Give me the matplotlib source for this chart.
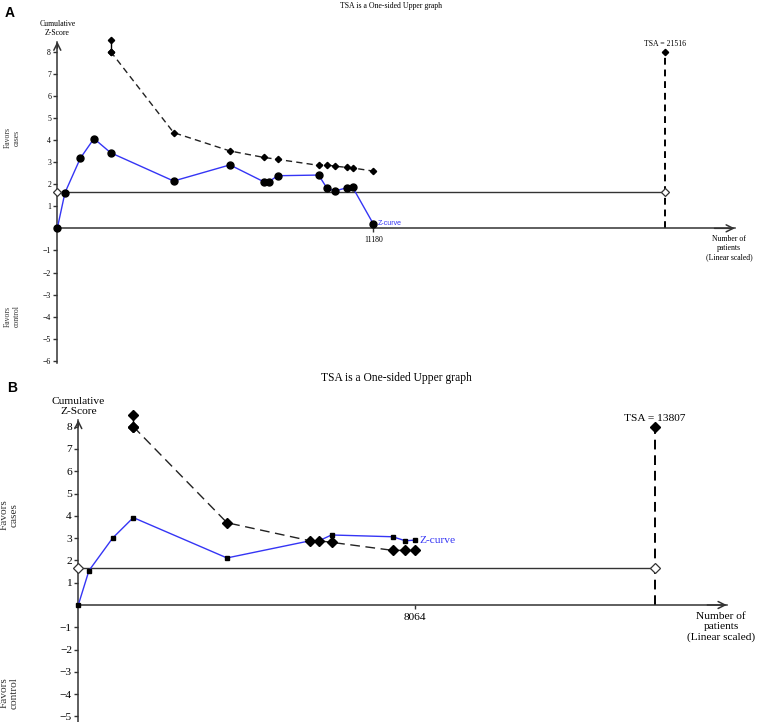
"""Trial sequential analysis charts (panels A and B)."""

import matplotlib

matplotlib.use("Agg")
import matplotlib.pyplot as plt

plt.rcParams["font.family"] = "serif"
plt.rcParams["font.serif"] = ["Liberation Serif", "DejaVu Serif"]

W, H = 758, 722

# Panel A data
a_patients = [0, 271, 814, 1297, 1887, 4116, 6108, 7300, 7488, 7795, 9245, 9528, 9811, 10236, 10448, 11180]
a_z = [0, 1.61, 3.17, 4.06, 3.42, 2.14, 2.87, 2.11, 2.11, 2.38, 2.41, 1.84, 1.69, 1.83, 1.86, 0.20]
a_bound_patients = [1887, 4116, 6108, 7300, 7795, 9245, 9528, 9811, 10236, 10448, 11180]
a_bound_z = [8.0, 4.33, 3.50, 3.21, 3.12, 2.85, 2.88, 2.81, 2.76, 2.73, 2.59]
a_bound_top = 8.5
a_tsa = 21516
a_yticks = [-6, -5, -4, -3, -2, -1, 1, 2, 3, 4, 5, 6, 7, 8]

# Panel B data
b_patients = [0, 255, 822, 1317, 3561, 5550, 5765, 6065, 7530, 7832, 8064]
b_z = [0, 1.54, 3.00, 3.92, 2.11, 2.88, 2.88, 3.14, 3.06, 2.88, 2.91]
b_bound_patients = [1317, 3561, 5550, 5765, 6065, 7530, 7832, 8064]
b_bound_z = [8.0, 3.69, 2.88, 2.88, 2.81, 2.45, 2.45, 2.45]
b_bound_top = 8.5
b_tsa = 13807
b_yticks = [-5, -4, -3, -2, -1, 1, 2, 3, 4, 5, 6, 7, 8]

z_alpha = 1.645
tsa_cap = 8.0

BLUE = "#3535f5"
AXC = "#333333"


def px_rect(left, top, right, bottom):
    return [left / W, 1 - bottom / H, (right - left) / W, (bottom - top) / H]


def draw_panel(ax, patients, z, bound_x, bound_z, bound_top, tsa, yticks,
               x_end, y_top, y_bot, fs, zmark, zms, bms, dash, tsa_dash):
    for side in ("top", "right"):
        ax.spines[side].set_visible(False)
    ax.spines["left"].set_position(("data", 0))
    ax.spines["bottom"].set_position(("data", 0))
    ax.spines["left"].set_bounds(y_bot, y_top)
    ax.spines["bottom"].set_bounds(0, x_end)
    for s in ("left", "bottom"):
        ax.spines[s].set_color(AXC)
        ax.spines[s].set_linewidth(1.1)
    ax.set_yticks(yticks)
    ax.set_xticks([patients[-1]])
    ax.set_xticklabels([str(patients[-1])])
    ax.tick_params(axis="both", direction="out", length=3, width=1, color=AXC,
                   labelsize=fs, pad=1.5)
    ax.tick_params(axis="x", pad=2.5)

    # arrow heads on axes
    ax.annotate("", xy=(0, y_top), xytext=(0, y_top - 0.3),
                arrowprops=dict(arrowstyle="->,head_length=0.5,head_width=0.25",
                                color=AXC, lw=1.1, shrinkA=0, shrinkB=0))
    ax.annotate("", xy=(x_end, 0), xytext=(x_end * 0.97, 0),
                arrowprops=dict(arrowstyle="->,head_length=0.5,head_width=0.25",
                                color=AXC, lw=1.1, shrinkA=0, shrinkB=0))

    # conventional boundary and TSA line
    ax.plot([0, tsa], [z_alpha, z_alpha], color=AXC, lw=1.0, zorder=2)
    ax.plot([tsa, tsa], [0, tsa_cap], color="black", lw=1.4, dashes=tsa_dash, zorder=2)
    ax.plot([tsa], [tsa_cap], marker="D", color="black", ms=bms, zorder=4, clip_on=False)
    ax.plot([0, tsa], [z_alpha, z_alpha], ls="none", marker="D", ms=bms + 0.5,
            mfc="white", mec=AXC, mew=0.9, zorder=5, clip_on=False)

    # Z-curve
    ax.plot(patients, z, color=BLUE, lw=1.0, marker=zmark, ms=zms,
            mfc="black", mec="black", zorder=3, clip_on=False)

    # monitoring boundary
    ax.plot([bound_x[0], bound_x[0]], [bound_top, bound_z[0]], color="black",
            lw=1.0, marker="D", ms=bms, zorder=4, clip_on=False)
    ax.plot(bound_x, bound_z, color="#222222", lw=1.0, dashes=dash, marker="D",
            mfc="black", mec="black", ms=bms, zorder=4, clip_on=False)

    ax.annotate(f"TSA = {tsa}", xy=(tsa, tsa_cap), xytext=(0, 5.5),
                textcoords="offset points", ha="center", va="center", fontsize=fs)
    ax.annotate("Cumulative\nZ-Score", xy=(0, y_top), xytext=(0, 3),
                textcoords="offset points", ha="center", va="bottom",
                fontsize=fs, linespacing=1.15)
    ax.annotate("Number of\npatients\n(Linear scaled)", xy=(x_end, 0), xytext=(-4, -5),
                textcoords="offset points", ha="center", va="top",
                fontsize=fs, linespacing=1.2)


fig = plt.figure(figsize=(W / 100, H / 100), dpi=100)

# Panel A
axA = fig.add_axes(px_rect(40, 35, 752, 370))
axA.set_xlim(-612, 24578)
axA.set_ylim(-6.41, 8.747)
draw_panel(axA, a_patients, a_z, a_bound_patients, a_bound_z, a_bound_top, a_tsa,
           a_yticks, x_end=23970, y_top=8.45, y_bot=-6.1, fs=5.6, zmark="o",
           zms=5, bms=3.2, dash=(4.5, 3), tsa_dash=(3.5, 2.5))
axA.annotate("Z-curve", xy=(a_patients[-1], a_z[-1]), xytext=(3.5, 0),
             textcoords="offset points", va="center", color=BLUE, fontsize=5,
             family="Liberation Sans")

# Panel B
axB = fig.add_axes(px_rect(60, 412, 752, 722))
axB.set_xlim(-438, 16135)
axB.set_ylim(-5.247, 8.655)
draw_panel(axB, b_patients, b_z, b_bound_patients, b_bound_z, b_bound_top, b_tsa,
           b_yticks, x_end=15530, y_top=8.3, y_bot=-5.3, fs=8.2, zmark="s",
           zms=3.2, bms=5, dash=(7, 4), tsa_dash=(5, 3))
axB.annotate("Z-curve", xy=(b_patients[-1], b_z[-1]), xytext=(3.5, 0),
             textcoords="offset points", va="center", color=BLUE, fontsize=8.2)

# titles, panel letters, side labels
fig.text(391 / W, 1 - 6 / H, "TSA is a One-sided Upper graph", ha="center",
         va="center", fontsize=5.6)
fig.text(396 / W, 1 - 378 / H, "TSA is a One-sided Upper graph", ha="center",
         va="center", fontsize=8.3)
fig.text(10 / W, 1 - 13 / H, "A", ha="center", va="center", fontsize=10,
         fontweight="bold", family="Liberation Sans")
fig.text(12 / W, 1 - 388 / H, "B", ha="center", va="center", fontsize=10,
         fontweight="bold", family="Liberation Sans")

for x, y, txt, fs in [(12, 138, "Favors\ncases", 5.6), (12, 316, "Favors\ncontrol", 5.6),
                      (9, 515, "Favors\ncases", 8.2), (9, 693, "Favors\ncontrol", 8.2)]:
    fig.text(x / W, 1 - y / H, txt, rotation=90, ha="center", va="center",
             fontsize=fs, linespacing=1.1, color="#333333")

fig.savefig("out.png", dpi=100)
plt.close(fig)
